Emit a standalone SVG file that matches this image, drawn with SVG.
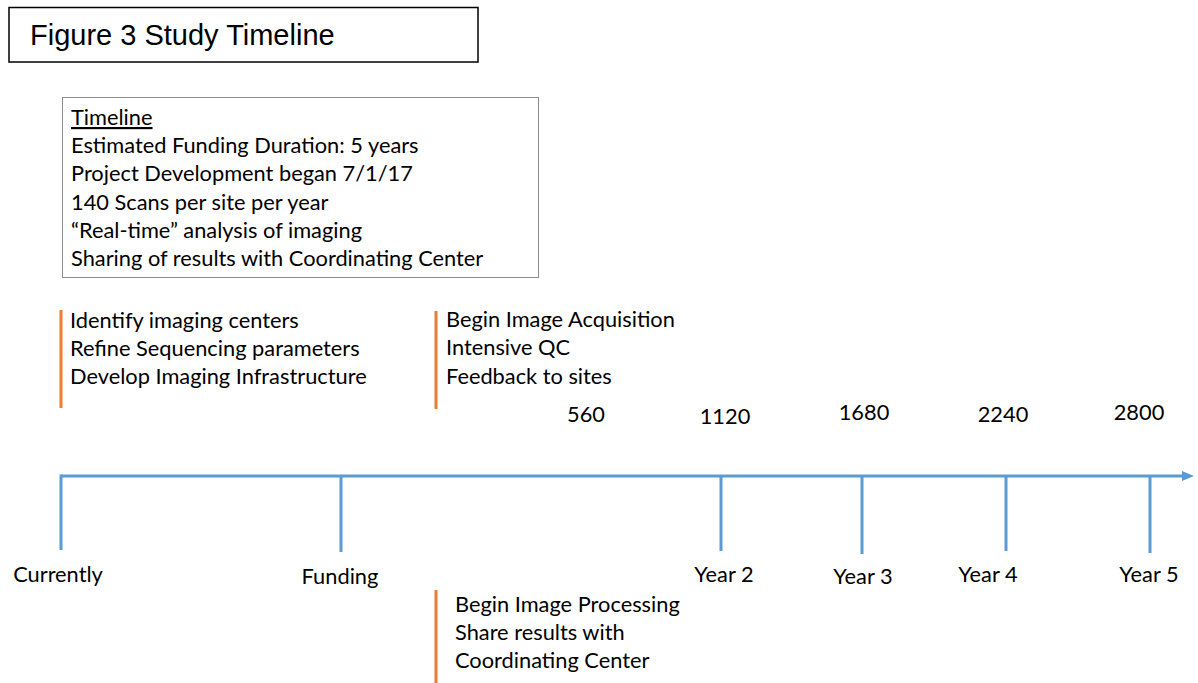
<svg xmlns="http://www.w3.org/2000/svg" width="1198" height="683" viewBox="0 0 1198 683">
  <style>
    .t { font-family: Lato, "Noto Sans", "Liberation Sans", sans-serif; font-size: 21.8px; fill: #000; }
    .mid { text-anchor: middle; }
    .axis { stroke: #5B9BD5; stroke-width: 3; fill: none; }
    .bar { stroke: #ED7D31; stroke-width: 3; fill: none; }
  </style>
  <defs>
    <marker id="arrow" viewBox="0 0 12 10" refX="0" refY="5" markerWidth="12" markerHeight="10" markerUnits="userSpaceOnUse" orient="auto">
      <path d="M0,0 L12,5 L0,10 Z" fill="#5B9BD5"/>
    </marker>
  </defs>
  <rect width="1198" height="683" fill="#fff"/>

  <!-- title -->
  <g id="title">
    <rect x="9" y="7.5" width="469" height="54.5" fill="#fff" stroke="#000" stroke-width="1.5"/>
    <text x="30" y="45" style="font-family: 'Liberation Sans', Arial, sans-serif; font-size: 29px;">Figure 3 Study Timeline</text>
  </g>

  <!-- summary box -->
  <g id="summary">
    <rect x="62.5" y="97.5" width="476" height="180" fill="#fff" stroke="#8c8c8c" stroke-width="1"/>
    <text class="t" x="71" y="125" text-decoration="underline">Timeline</text>
    <text class="t" x="71" y="153">Estimated Funding Duration: 5 years</text>
    <text class="t" x="71" y="181">Project Development began 7/1/17</text>
    <text class="t" x="71" y="210">140 Scans per site per year</text>
    <text class="t" x="71" y="238">“Real-time” analysis of imaging</text>
    <text class="t" x="71" y="266">Sharing of results with Coordinating Center</text>
  </g>

  <!-- connectors: axis and ticks -->
  <g id="connectors">
    <line class="axis" x1="61" y1="476" x2="1182" y2="476" marker-end="url(#arrow)"/>
    <path class="axis" d="M61,474.5 V550"/>
    <line class="axis" x1="341" y1="476" x2="341" y2="552"/>
    <line class="axis" x1="721" y1="476" x2="721" y2="551"/>
    <line class="axis" x1="862" y1="476" x2="862" y2="554"/>
    <line class="axis" x1="1006" y1="476" x2="1006" y2="551"/>
    <line class="axis" x1="1150" y1="476" x2="1150" y2="553"/>
  </g>

  <!-- phase notes -->
  <g id="phase-development">
    <line class="bar" x1="61" y1="310" x2="61" y2="408"/>
    <text class="t" x="70" y="328">Identify imaging centers</text>
    <text class="t" x="70" y="356">Refine Sequencing parameters</text>
    <text class="t" x="70" y="384">Develop Imaging Infrastructure</text>
  </g>
  <g id="phase-acquisition">
    <line class="bar" x1="436" y1="311" x2="436" y2="409"/>
    <text class="t" x="446" y="327">Begin Image Acquisition</text>
    <text class="t" x="446" y="355">Intensive QC</text>
    <text class="t" x="446" y="384">Feedback to sites</text>
  </g>
  <g id="phase-processing">
    <line class="bar" x1="436" y1="590" x2="436" y2="683"/>
    <text class="t" x="455" y="612">Begin Image Processing</text>
    <text class="t" x="455" y="640">Share results with</text>
    <text class="t" x="455" y="668">Coordinating Center</text>
  </g>

  <!-- cumulative scan counts -->
  <g id="counts">
    <text class="t mid" x="586" y="422">560</text>
    <text class="t mid" x="725" y="424">1120</text>
    <text class="t mid" x="864" y="420">1680</text>
    <text class="t mid" x="1003" y="422">2240</text>
    <text class="t mid" x="1139" y="420">2800</text>
  </g>

  <!-- milestone labels -->
  <g id="milestones">
    <text class="t mid" x="58" y="582">Currently</text>
    <text class="t mid" x="340" y="584">Funding</text>
    <text class="t mid" x="724" y="582">Year 2</text>
    <text class="t mid" x="863" y="584">Year 3</text>
    <text class="t mid" x="988" y="582">Year 4</text>
    <text class="t mid" x="1149" y="582">Year 5</text>
  </g>
</svg>
